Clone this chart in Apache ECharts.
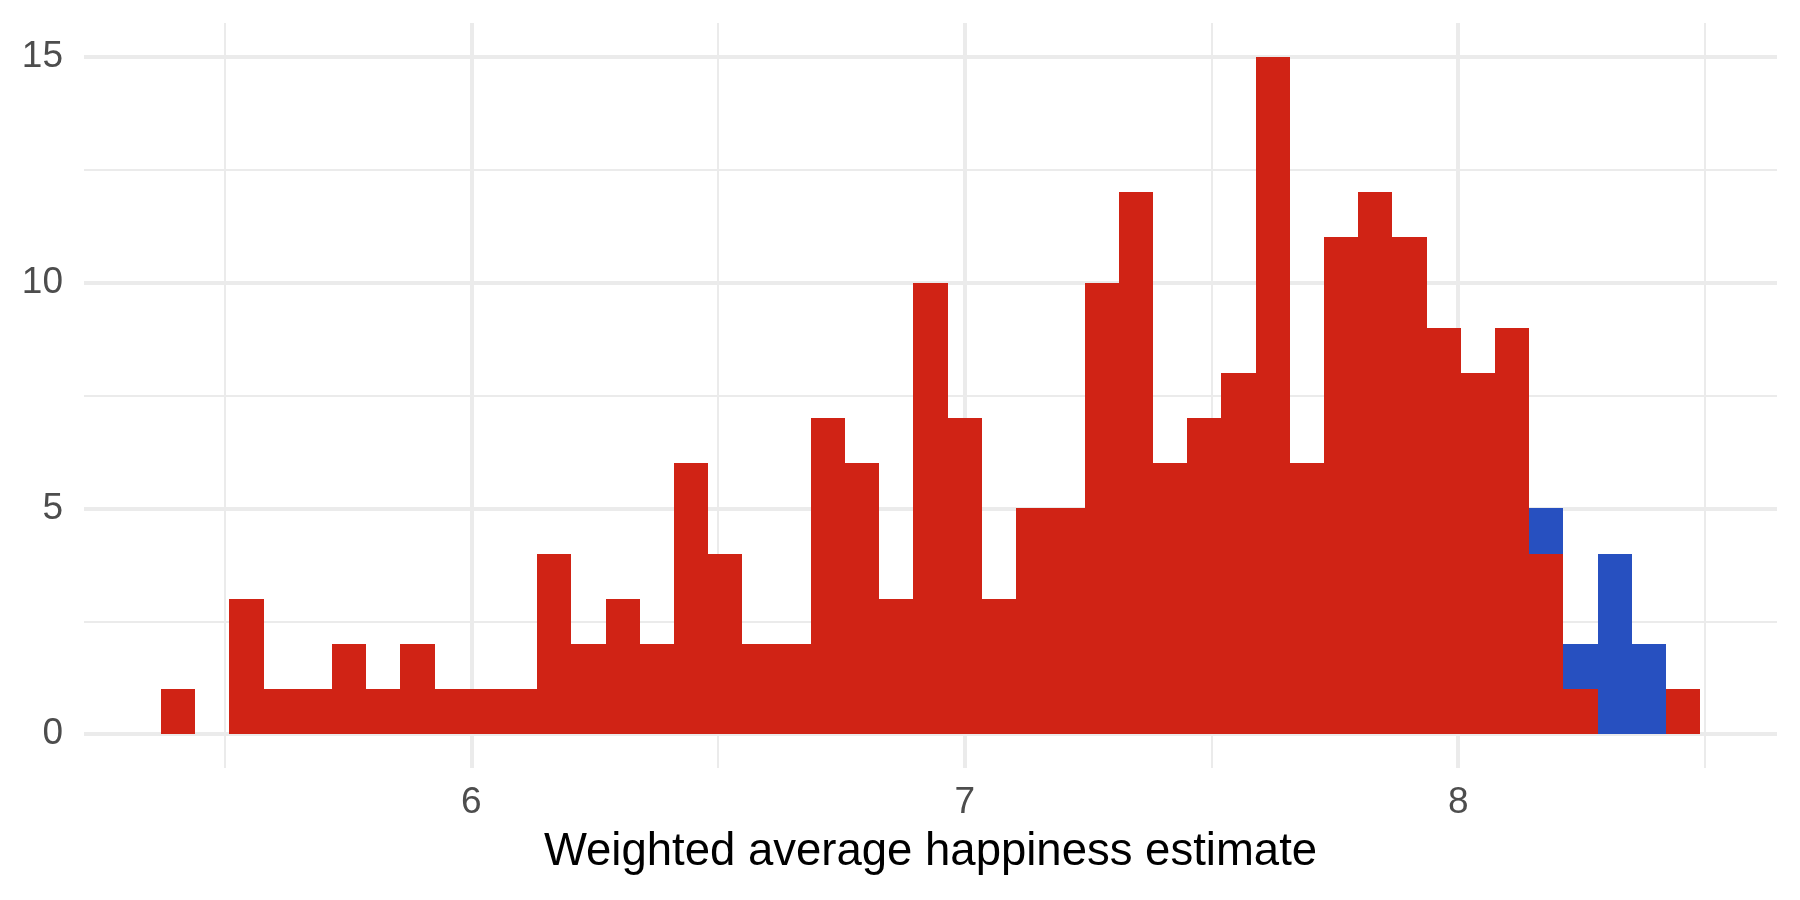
<!DOCTYPE html>
<html>
<head>
<meta charset="utf-8">
<script src="https://cdn.jsdelivr.net/npm/echarts@6/dist/echarts.min.js"></script>
<style>
html,body{margin:0;padding:0;background:#fff;}
#chart{width:1800px;height:900px;}
</style>
</head>
<body>
<div id="chart"></div>
<script>
// Histogram bins (45 bins) of weighted average happiness estimate
const binStart = 5.371;
const binWidth = 0.06932;
const redCounts  = [1,0,3,1,1,2,1,2,1,1,1,4,2,3,2,6,4,2,2,7,6,3,10,7,3,5,5,10,12,6,7,8,15,6,11,12,11,9,8,9,4,1,0,0,1];
const blueCounts = [0,0,0,0,0,0,0,0,0,0,0,0,0,0,0,0,0,0,0,0,0,0,0,0,0,0,0,0,0,0,0,0,0,0,0,0,0,0,0,0,1,1,4,2,0];
const xTickLabels = [6, 7, 8];
const yTickLabels = [0, 5, 10, 15];
const xMajorGrid = [6, 7, 8];
const xMinorGrid = [5.5, 6.5, 7.5, 8.5];
const yMajorGrid = [0, 5, 10, 15];
const yMinorGrid = [2.5, 7.5, 12.5];
const xTitle = 'Weighted average happiness estimate';

const RED = '#D02315';
const BLUE = '#2750C0';
const GRID = '#EBEBEB';

const redData = [], blueData = [];
redCounts.forEach((v, i) => {
  const l = binStart + i * binWidth, r = l + binWidth;
  if (v > 0) redData.push([l, r, 0, v]);
  const b = blueCounts[i];
  if (b > 0) blueData.push([l, r, v, v + b]);
});

function renderRect(color) {
  return function (params, api) {
    const p0 = api.coord([api.value(0), api.value(3)]);
    const p1 = api.coord([api.value(1), api.value(2)]);
    const x0 = Math.round(p0[0]), x1 = Math.round(p1[0]);
    const y0 = Math.round(p0[1]), y1 = Math.round(p1[1]);
    return {
      type: 'rect',
      shape: { x: x0, y: y0, width: x1 - x0, height: y1 - y0 },
      style: { fill: color }
    };
  };
}

const gridLines = [];
xMinorGrid.forEach(v => gridLines.push({ xAxis: v, lineStyle: { width: 2, color: GRID, type: 'solid' } }));
xMajorGrid.forEach(v => gridLines.push({ xAxis: v, lineStyle: { width: 4, color: GRID, type: 'solid' } }));
yMinorGrid.forEach(v => gridLines.push({ yAxis: v, lineStyle: { width: 2, color: GRID, type: 'solid' } }));
yMajorGrid.forEach(v => gridLines.push({ yAxis: v, lineStyle: { width: 4, color: GRID, type: 'solid' } }));

const chart = echarts.init(document.getElementById('chart'), null, { renderer: 'canvas' });
chart.setOption({
  animation: false,
  backgroundColor: '#ffffff',
  grid: { left: 84, right: 23, top: 23, bottom: 132, containLabel: false },
  xAxis: {
    type: 'value',
    min: 5.215, max: 8.646,
    axisLine: { show: false }, axisTick: { show: false }, splitLine: { show: false },
    axisLabel: {
      customValues: xTickLabels,
      margin: 16,
      fontSize: 37,
      color: '#4D4D4D',
      fontFamily: 'Liberation Sans, Arial, sans-serif'
    },
    name: xTitle,
    nameLocation: 'middle',
    nameGap: 61,
    nameTextStyle: { fontSize: 45.5, color: '#000000', fontFamily: 'Liberation Sans, Arial, sans-serif' }
  },
  yAxis: {
    type: 'value',
    min: -0.75, max: 15.75,
    axisLine: { show: false }, axisTick: { show: false }, splitLine: { show: false },
    axisLabel: {
      customValues: yTickLabels,
      margin: 21,
      fontSize: 37,
      color: '#4D4D4D',
      fontFamily: 'Liberation Sans, Arial, sans-serif'
    }
  },
  series: [
    {
      type: 'line', data: [], z: 1, silent: true,
      markLine: {
        z: 1,
        silent: true, symbol: ['none', 'none'], label: { show: false },
        emphasis: { disabled: true }, animation: false,
        data: gridLines
      }
    },
    {
      type: 'custom', name: 'red', z: 10, silent: true,
      renderItem: renderRect(RED),
      encode: { x: [0, 1], y: [2, 3] },
      data: redData
    },
    {
      type: 'custom', name: 'blue', z: 11, silent: true,
      renderItem: renderRect(BLUE),
      encode: { x: [0, 1], y: [2, 3] },
      data: blueData
    }
  ]
});
</script>
</body>
</html>
